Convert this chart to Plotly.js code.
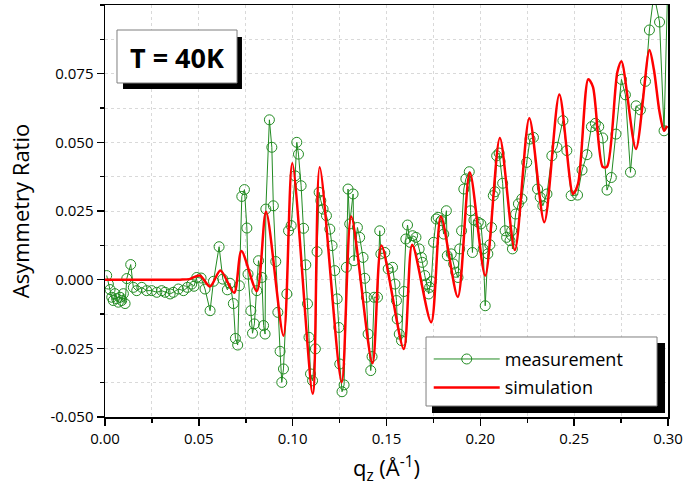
<!DOCTYPE html>
<html>
<head>
<meta charset="utf-8">
<script src="https://cdn.plot.ly/plotly-3.0.1.min.js"></script>
<style>
  html, body { margin: 0; padding: 0; background: #ffffff; }
  #chart { width: 683px; height: 493px; }
</style>
</head>
<body>
<div id="chart"></div>
<script>
// Measured asymmetry ratio vs q_z
const qMeas = [
  0.0009, 0.0018, 0.0027, 0.0036, 0.0044, 0.0053, 0.0062, 0.0071, 0.0080, 0.0089,
  0.0098, 0.0107, 0.0116, 0.0137, 0.0151, 0.0169, 0.0196, 0.0222, 0.0249, 0.0276,
  0.0302, 0.0320, 0.0347, 0.0364, 0.0391, 0.0418, 0.0439, 0.0462, 0.0474, 0.0489,
  0.0512, 0.0533, 0.0560, 0.0578, 0.0608, 0.0628, 0.0652, 0.0666, 0.0684, 0.0695,
  0.0707, 0.0716, 0.0729, 0.0743, 0.0756, 0.0762, 0.0777, 0.0786, 0.0796, 0.0809,
  0.0818, 0.0836, 0.0845, 0.0853, 0.0857, 0.0876, 0.0889, 0.0897, 0.0910, 0.0921,
  0.0933, 0.0942, 0.0951, 0.0969, 0.0978, 0.0992, 0.1013, 0.1022, 0.1031, 0.1045,
  0.1058, 0.1070, 0.1079, 0.1087, 0.1095, 0.1106, 0.1121, 0.1130, 0.1141, 0.1150,
  0.1162, 0.1180, 0.1198, 0.1210, 0.1224, 0.1237, 0.1246, 0.1251, 0.1263, 0.1274,
  0.1286, 0.1295, 0.1304, 0.1322, 0.1327, 0.1345, 0.1357, 0.1375, 0.1384, 0.1393,
  0.1402, 0.1416, 0.1423, 0.1434, 0.1452, 0.1464, 0.1470, 0.1491, 0.1509, 0.1532,
  0.1545, 0.1553, 0.1557, 0.1568, 0.1580, 0.1593, 0.1603, 0.1612, 0.1625, 0.1639,
  0.1657, 0.1674, 0.1686, 0.1691, 0.1704, 0.1712, 0.1725, 0.1730, 0.1739, 0.1751,
  0.1765, 0.1775, 0.1792, 0.1805, 0.1819, 0.1824, 0.1845, 0.1858, 0.1869, 0.1881,
  0.1890, 0.1900, 0.1912, 0.1923, 0.1941, 0.1948, 0.1958, 0.1966, 0.1989, 0.2003,
  0.2015, 0.2026, 0.2040, 0.2051, 0.2060, 0.2069, 0.2078, 0.2087, 0.2100, 0.2105,
  0.2119, 0.2132, 0.2140, 0.2158, 0.2167, 0.2171, 0.2188, 0.2203, 0.2221, 0.2247,
  0.2265, 0.2283, 0.2305, 0.2319, 0.2333, 0.2355, 0.2381, 0.2408, 0.2440, 0.2461,
  0.2484, 0.2518, 0.2542, 0.2568, 0.2592, 0.2613, 0.2631, 0.2652, 0.2675, 0.2698,
  0.2723, 0.2752, 0.2773, 0.2800, 0.2830, 0.2853, 0.2880, 0.2901, 0.2925, 0.2955,
  0.2979, 0.2998
];
const asymMeas = [
  0.0015, -0.0016, -0.0036, -0.0064, -0.0076, -0.0051, -0.0069, -0.0082, -0.0064, -0.0076,
  -0.0051, -0.0087, 0.0004, 0.0055, -0.0028, -0.0040, -0.0028, -0.0040, -0.0040, -0.0046,
  -0.0040, -0.0046, -0.0052, -0.0046, -0.0034, -0.0040, -0.0028, -0.0016, -0.0024, 0.0008,
  0.0006, -0.0034, -0.0113, -0.0006, 0.0120, 0.0002, -0.0037, -0.0013, -0.0087, -0.0214,
  -0.0238, -0.0022, 0.0303, 0.0328, 0.0188, 0.0020, -0.0113, -0.0195, -0.0161, -0.0040,
  0.0069, 0.0008, -0.0167, -0.0198, 0.0257, 0.0582, 0.0482, 0.0269, 0.0066, -0.0119,
  -0.0261, -0.0374, -0.0325, -0.0052, 0.0178, 0.0197, 0.0378, 0.0500, 0.0457, 0.0342,
  0.0187, 0.0054, -0.0088, -0.0210, -0.0343, -0.0368, -0.0252, 0.0102, 0.0318, 0.0288,
  0.0257, 0.0233, 0.0184, 0.0124, 0.0033, -0.0070, -0.0174, -0.0307, -0.0408, -0.0383,
  0.0045, 0.0330, 0.0203, 0.0312, 0.0069, 0.0190, 0.0154, 0.0081, 0.0005, -0.0064,
  -0.0198, -0.0331, -0.0280, -0.0064, -0.0064, 0.0178, 0.0094, 0.0099, 0.0039, 0.0045,
  -0.0016, -0.0076, -0.0143, -0.0198, -0.0222, -0.0043, 0.0148, 0.0199, 0.0136, 0.0160,
  0.0154, 0.0112, 0.0081, 0.0063, 0.0015, -0.0016, -0.0052, -0.0028, -0.0007, 0.0136,
  0.0221, 0.0227, 0.0215, 0.0166, 0.0251, 0.0087, 0.0094, 0.0057, 0.0027, 0.0008,
  0.0112, 0.0178, 0.0330, 0.0367, 0.0393, 0.0251, 0.0099, 0.0217, 0.0209, 0.0203,
  0.0112, -0.0095, 0.0094, 0.0127, 0.0190, 0.0306, 0.0320, 0.0451, 0.0461, 0.0431,
  0.0351, 0.0178, 0.0154, 0.0142, 0.0178, 0.0112, 0.0239, 0.0276, 0.0294, 0.0427,
  0.0512, 0.0518, 0.0330, 0.0300, 0.0269, 0.0312, 0.0451, 0.0482, 0.0579, 0.0470,
  0.0306, 0.0308, 0.0399, 0.0455, 0.0557, 0.0569, 0.0557, 0.0516, 0.0326, 0.0372,
  0.0530, 0.0729, 0.0673, 0.0391, 0.0633, 0.0618, 0.0722, 0.0909, 0.1040, 0.0938,
  0.0542, 0.1060
];

// Simulated asymmetry ratio
const qSim = [
  0.000, 0.020, 0.040, 0.045, 0.0505, 0.056, 0.0615, 0.0688, 0.0727, 0.0809,
  0.0858, 0.0951, 0.0998, 0.1107, 0.1144, 0.1261, 0.1312, 0.1425, 0.1473, 0.1592,
  0.1637, 0.1738, 0.1790, 0.1880, 0.1944, 0.2026, 0.2104, 0.2184, 0.2261, 0.2341,
  0.2421, 0.2494, 0.2521, 0.2575, 0.2600, 0.2652, 0.2675, 0.2730, 0.2752, 0.2829,
  0.2901, 0.2925, 0.2955, 0.2979, 0.2995
];
const asymSim = [
  0.0000, 0.0000, 0.0000, 0.0002, 0.0015, -0.0025, 0.0033, -0.0048, 0.0104, -0.0042,
  0.0247, -0.0204, 0.0424, -0.0415, 0.0409, -0.0374, 0.0230, -0.0304, 0.0124, -0.0252,
  0.0127, -0.0155, 0.0230, -0.0063, 0.0390, 0.0015, 0.0516, 0.0108, 0.0588, 0.0209,
  0.0674, 0.0312, 0.0350, 0.0730, 0.0702, 0.0411, 0.0411, 0.0755, 0.0795, 0.0476,
  0.0836, 0.0764, 0.0610, 0.0542, 0.0560
];

// Axis tick labels
const yTickVals = [-0.05, -0.025, 0, 0.025, 0.05, 0.075];
const yTickText = ["-0.050", "-0.025", "0.000", "0.025", "0.050", "0.075"];
const xTickVals = [0, 0.05, 0.10, 0.15, 0.20, 0.25, 0.30];
const xTickText = ["0.00", "0.05", "0.10", "0.15", "0.20", "0.25", "0.30"];

const green = "#228b22";
const red = "#ff0000";
const FONT = "Open Sans, Lato, sans-serif";

const traces = [
  {
    x: qMeas, y: asymMeas, type: "scatter", mode: "lines+markers",
    name: "measurement", legendgroup: "m",
    line: { color: green, width: 1 },
    marker: { symbol: "circle-open", size: 10, color: green, line: { width: 1, color: green } }
  },
  {
    x: qSim, y: asymSim, type: "scatter", mode: "lines",
    name: "simulation", legendgroup: "s",
    line: { color: red, width: 2.5, shape: "spline", smoothing: 0.8 }
  }
];

const gridMinor = { showgrid: true, gridcolor: "#d9d9d9", griddash: "dot", gridwidth: 1 };

const layout = {
  width: 683, height: 493,
  margin: { l: 105, r: 15, t: 5, b: 76 },
  paper_bgcolor: "#ffffff", plot_bgcolor: "#ffffff",
  font: { family: FONT, color: "#000000" },
  showlegend: true,
  legend: {
    x: 0.575, y: 0.185, xanchor: "left", yanchor: "top",
    bgcolor: "rgba(0,0,0,0)", borderwidth: 0,
    font: { family: FONT, size: 18, color: "#000000" },
    itemwidth: 66, tracegroupgap: 2
  },
  xaxis: {
    range: [0, 0.30], tickmode: "array", tickvals: xTickVals, ticktext: xTickText,
    ticks: "outside", ticklen: 7, tickwidth: 1.5, tickcolor: "#000",
    showline: true, linecolor: "#000", linewidth: 1.5, mirror: true,
    zeroline: false, showgrid: true, gridcolor: "#d9d9d9", griddash: "dot",
    tickfont: { family: FONT, size: 15 },
    minor: Object.assign({ dtick: 0.025, tick0: 0, ticks: "outside", ticklen: 4, tickwidth: 1.5, tickcolor: "#000" }, gridMinor),
    title: { text: "q<sub>z</sub> (Å<sup>-1</sup>)", font: { family: FONT, size: 22 }, standoff: 14 }
  },
  xaxis2: {
    range: [0, 0.30], overlaying: "x", side: "top", anchor: "y",
    tickmode: "linear", tick0: 0, dtick: 0.05, showticklabels: false,
    ticks: "inside", ticklen: 7, tickwidth: 1.5, tickcolor: "#000",
    showline: false, showgrid: false, zeroline: false,
    minor: { dtick: 0.025, tick0: 0, ticks: "inside", ticklen: 4, tickwidth: 1.5, tickcolor: "#000", showgrid: false }
  },
  yaxis: {
    range: [-0.05, 0.10], tickmode: "array", tickvals: yTickVals, ticktext: yTickText,
    ticks: "outside", ticklen: 7, tickwidth: 1.5, tickcolor: "#000",
    showline: true, linecolor: "#000", linewidth: 1.5, mirror: true,
    zeroline: false, showgrid: true, gridcolor: "#d9d9d9", griddash: "dot",
    tickfont: { family: FONT, size: 15 },
    minor: Object.assign({ dtick: 0.0125, tick0: 0, ticks: "outside", ticklen: 4, tickwidth: 1.5, tickcolor: "#000" }, gridMinor),
    title: { text: "Asymmetry Ratio", font: { family: FONT, size: 22 }, standoff: 14 }
  },
  shapes: [
    // temperature label box with drop shadow
    { type: "rect", xref: "paper", yref: "paper", x0: 0.032, x1: 0.2433, y0: 0.7961, y1: 0.9223,
      fillcolor: "#000", line: { width: 0 }, layer: "above" },
    { type: "rect", xref: "paper", yref: "paper", x0: 0.0213, x1: 0.2345, y0: 0.8107, y1: 0.9393,
      fillcolor: "#fff", line: { color: "#7f7f7f", width: 1 }, layer: "above" },
    // legend frame with drop shadow
    { type: "rect", xref: "paper", yref: "paper", x0: 0.5808, x1: 0.9947, y0: 0.0097, y1: 0.1796,
      fillcolor: "#000", line: { width: 0 }, layer: "above" },
    { type: "rect", xref: "paper", yref: "paper", x0: 0.5702, x1: 0.9805, y0: 0.0267, y1: 0.1942,
      fillcolor: "#fff", line: { color: "#7f7f7f", width: 1 }, layer: "above" }
  ],
  annotations: [
    { xref: "paper", yref: "paper", x: 0.127, y: 0.8714, xanchor: "center", yanchor: "middle",
      text: "<b>T = 40K</b>", showarrow: false, font: { family: FONT, size: 27, color: "#000" } }
  ]
};

Plotly.newPlot("chart", traces, layout, { displayModeBar: false, staticPlot: true });
</script>
</body>
</html>
